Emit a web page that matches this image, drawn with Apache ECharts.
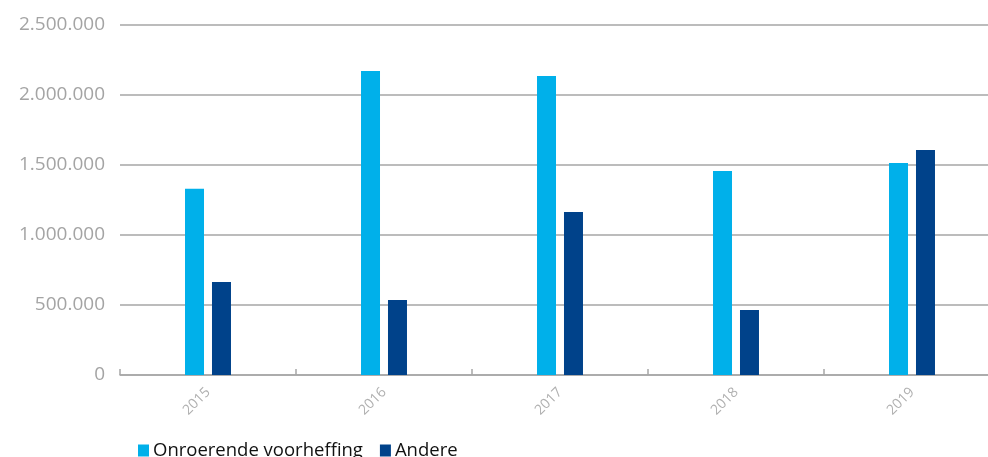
<!DOCTYPE html>
<html><head><meta charset="utf-8">
<script src="https://cdn.jsdelivr.net/npm/echarts@6/dist/echarts.min.js"></script>
<style>html,body{margin:0;padding:0;background:#fff;overflow:hidden}#c{width:1000px;height:457px}</style>
</head><body><div id="c"></div>
<script>
const categories = ['2015','2016','2017','2018','2019'];
const onroerende = [1330000, 2172000, 2136000, 1457000, 1514000];
const andere = [664000, 536000, 1164000, 464000, 1607000];
const yTicks = [0, 500000, 1000000, 1500000, 2000000, 2500000];

function fmt(v){ return String(v).replace(/\B(?=(\d{3})+(?!\d))/g,'.'); }

const chart = echarts.init(document.getElementById('c'));
chart.setOption({
  animation:false,
  textStyle:{fontFamily:'Open Sans'},
  grid:{left:120,right:0,top:25,bottom:82,containLabel:false},
  legend:{
    left:133, top:436, itemWidth:11, itemHeight:12, itemGap:17,
    icon:'rect',
    textStyle:{fontSize:18.5,color:'#111',fontFamily:'Open Sans',padding:[0,0,0,-1]},
    data:['Onroerende voorheffing','Andere']
  },
  xAxis:{
    type:'category', data:categories,
    axisLine:{lineStyle:{color:'#a6a6a6',width:1.5}},
    axisTick:{show:true,inside:true,length:6,lineStyle:{color:'#a6a6a6',width:1.5}},
    axisLabel:{rotate:45,color:'#b0b0b0',fontSize:14,margin:15,fontFamily:'Open Sans'}
  },
  yAxis:{
    type:'value', min:0, max:2500000, interval:500000,
    axisLine:{show:false}, axisTick:{show:false},
    splitLine:{lineStyle:{color:'#a6a6a6',width:1.5}},
    axisLabel:{color:'#a4a4a4',fontSize:19,margin:15,fontFamily:'Open Sans',
      formatter:function(v){ return yTicks.indexOf(v)>=0 ? fmt(v) : ''; }}
  },
  series:[
    {name:'Onroerende voorheffing',type:'bar',data:onroerende,barWidth:19,barGap:'42%',itemStyle:{color:'#00b0ea'}},
    {name:'Andere',type:'bar',data:andere,barWidth:19,itemStyle:{color:'#00428a'}}
  ]
});
</script></body></html>
